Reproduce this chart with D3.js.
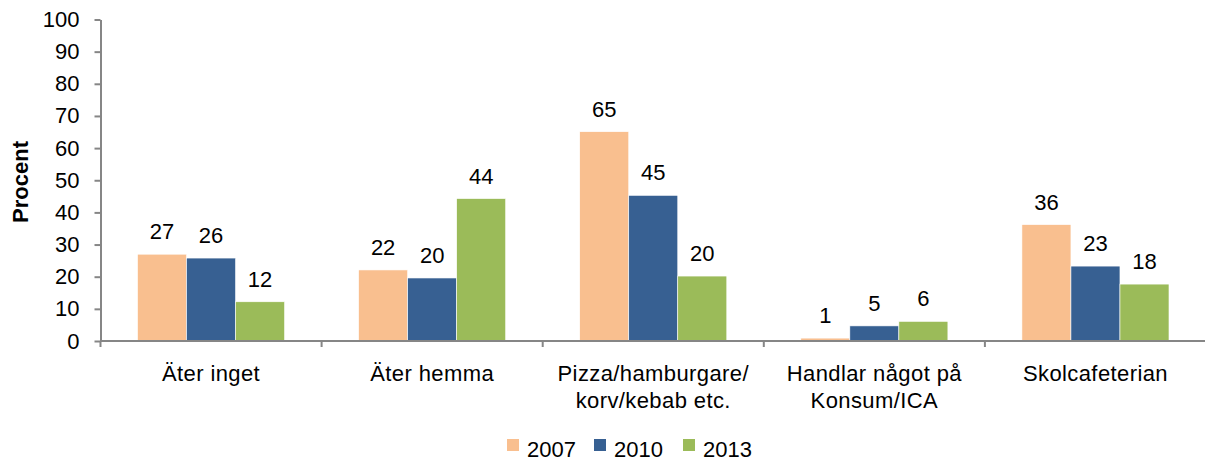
<!DOCTYPE html>
<html>
<head>
  <meta charset="utf-8">
  <script src="https://d3js.org/d3.v7.min.js"></script>
  <style>
    body { margin: 0; background: #fff; }
    svg text { font-family: "Liberation Sans", Arial, sans-serif; fill: #000; }
  </style>
</head>
<body>
<div id="chart"></div>
<script>

  // data
  var categories = ["Äter inget", "Äter hemma", "Pizza/hamburgare/\nkorv/kebab etc.", "Handlar något på\nKonsum/ICA", "Skolcafeterian"];
  var years = ["2007", "2010", "2013"];
  var v2007 = [27.0, 22.1, 65.1, 0.9, 36.2];
  var v2010 = [25.8, 19.6, 45.3, 4.7, 23.3];
  var v2013 = [12.2, 44.3, 20.2, 6.1, 17.7];
  var yTicks = [0, 10, 20, 30, 40, 50, 60, 70, 80, 90, 100];
  var colors = ["#F9BF8F", "#376092", "#9BBB59"];

  var series = [v2007, v2010, v2013];

  var width = 1205, height = 461;
  var plotLeft = 100.5, plotRight = 1206, plotTop = 19.5, plotBottom = 341;

  var svg = d3.select("#chart")
    .append("svg")
    .attr("width", width)
    .attr("height", height);

  var x0 = d3.scaleBand()
    .domain(categories)
    .range([plotLeft, plotRight])
    .paddingInner(0)
    .paddingOuter(0);

  var x1 = d3.scaleBand()
    .domain(years)
    .range([0, x0.bandwidth()])
    .paddingInner(0)
    .paddingOuter(0.755);

  var y = d3.scaleLinear()
    .domain([0, 100])
    .range([plotBottom, plotTop]);

  var fmt = d3.format(".0f");

  // y axis
  var yAxis = svg.append("g")
    .attr("transform", "translate(" + plotLeft + ",0)")
    .call(d3.axisLeft(y).tickValues(yTicks).tickSize(6).tickPadding(15).tickSizeOuter(0));
  yAxis.attr("font-family", null).attr("font-size", null);
  yAxis.select(".domain").attr("stroke", "#868686").attr("stroke-width", 2);
  yAxis.selectAll(".tick line").attr("stroke", "#868686").attr("stroke-width", 2);
  yAxis.selectAll(".tick text")
    .style("font-size", "22px");

  // bars + value labels
  years.forEach(function (yr, si) {
    svg.append("g")
      .selectAll("rect")
      .data(categories)
      .join("rect")
      .attr("x", function (d) { return x0(d) + x1(yr); })
      .attr("y", function (d, i) { return y(series[si][i]); })
      .attr("width", x1.bandwidth())
      .attr("height", function (d, i) { return plotBottom - y(series[si][i]); })
      .attr("fill", colors[si])
      .attr("stroke", "#fff")
      .attr("stroke-width", 0.6);

    svg.append("g")
      .selectAll("text")
      .data(categories)
      .join("text")
      .attr("x", function (d) { return x0(d) + x1(yr) + x1.bandwidth() / 2; })
      .attr("y", function (d, i) { return y(series[si][i]) - 15; })
      .attr("text-anchor", "middle")
      .style("font-size", "22px")
      .text(function (d, i) { return fmt(series[si][i]); });
  });

  // x axis line and category boundary ticks
  svg.append("line")
    .attr("x1", plotLeft).attr("x2", plotRight)
    .attr("y1", plotBottom).attr("y2", plotBottom)
    .attr("stroke", "#868686").attr("stroke-width", 2);

  svg.append("g")
    .selectAll("line")
    .data(d3.range(categories.length + 1))
    .join("line")
    .attr("x1", function (i) { return plotLeft + i * x0.step(); })
    .attr("x2", function (i) { return plotLeft + i * x0.step(); })
    .attr("y1", plotBottom)
    .attr("y2", plotBottom + 6)
    .attr("stroke", "#868686").attr("stroke-width", 2);

  // category labels (multi line)
  var catLabels = svg.append("g")
    .selectAll("text")
    .data(categories)
    .join("text")
    .attr("text-anchor", "middle")
    .attr("x", function (d) { return x0(d) + x0.bandwidth() / 2; })
    .attr("y", 381)
    .style("font-size", "22px")
    .style("letter-spacing", "0.4px");
  catLabels.selectAll("tspan")
    .data(function (d) { return d.split("\n"); })
    .join("tspan")
    .attr("x", function () { return this.parentNode.getAttribute("x"); })
    .attr("dy", function (d, i) { return i === 0 ? 0 : 27; })
    .text(function (d) { return d; });

  // y title
  svg.append("text")
    .attr("text-anchor", "middle")
    .attr("transform", "translate(28,182) rotate(-90)")
    .style("font-size", "22px")
    .style("font-weight", "bold")
    .text("Procent");

  // legend
  var legendX = [507, 594, 683];
  var legend = svg.append("g")
    .selectAll("g")
    .data(years)
    .join("g")
    .attr("transform", function (d, i) { return "translate(" + legendX[i] + ",439)"; });
  legend.append("rect")
    .attr("width", 12).attr("height", 12)
    .attr("fill", function (d, i) { return colors[i]; });
  legend.append("text")
    .attr("x", 20).attr("y", 18)
    .style("font-size", "22px")
    .text(function (d) { return d; });

</script>
</body>
</html>
